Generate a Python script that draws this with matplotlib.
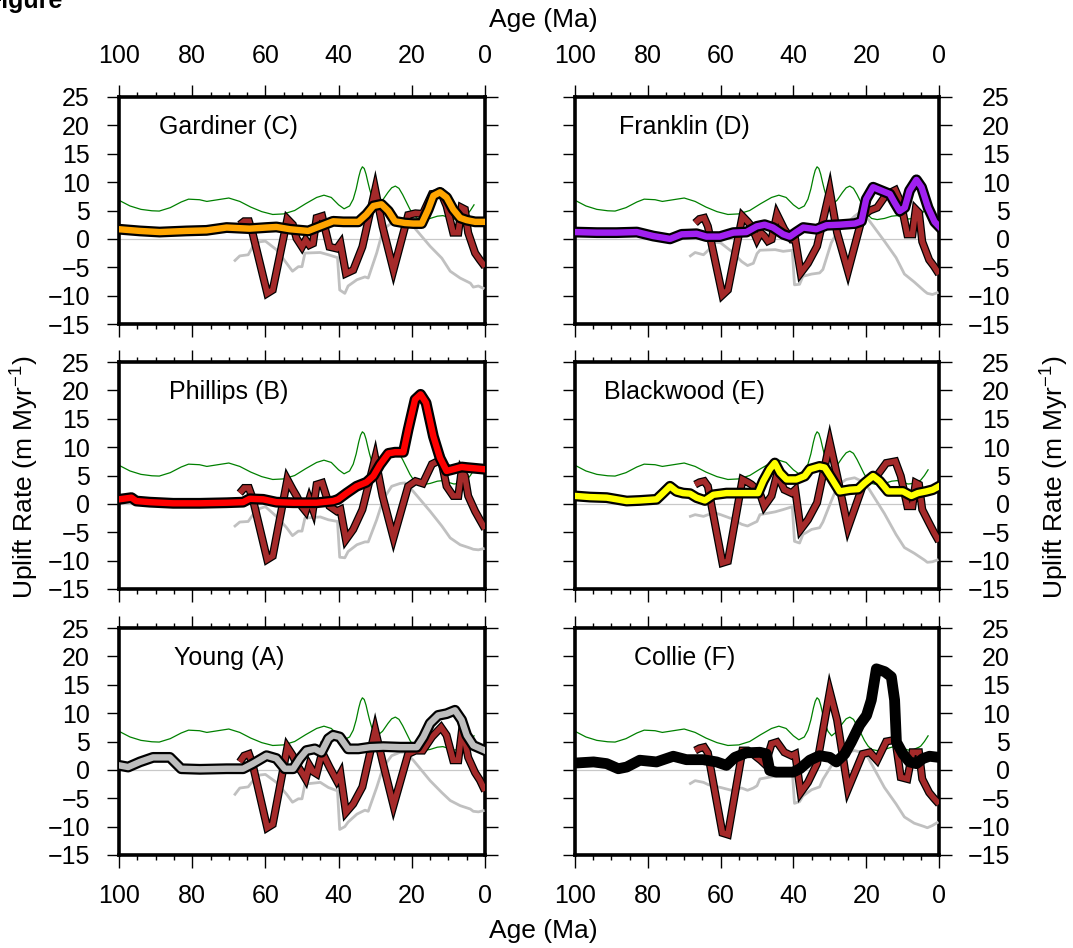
import numpy as np
import matplotlib
matplotlib.use("Agg")
import matplotlib.pyplot as plt
from matplotlib.ticker import MultipleLocator

plt.rcParams['font.family'] = ['Liberation Sans', 'DejaVu Sans']
plt.rcParams['mathtext.fontset'] = 'custom'
plt.rcParams['mathtext.rm'] = 'Liberation Sans'
plt.rcParams['mathtext.it'] = 'Liberation Sans:italic'

# --- thin green reference curve (same in every panel) ---
green_age = [100, 97, 94, 91, 89, 86, 83, 81, 78, 76, 73, 70, 67, 64, 61, 58, 55, 52, 49,
             46, 44, 42, 40, 38.5, 37, 36, 35.2, 34.5, 34, 33.5, 33, 32.5, 32, 31.5, 31,
             30.5, 29.5, 28, 26.5, 25.5, 24.5, 23.5, 22.5, 21.5, 20.5, 19.5, 18.5, 17, 15,
             13, 11.5, 10, 8.5, 7, 5.5, 5, 4, 3]
green_val = [6.8, 5.8, 5.2, 4.95, 4.9, 5.5, 6.5, 7.0, 6.9, 6.6, 6.9, 7.2, 6.6, 5.6, 4.8,
             4.3, 4.4, 5.0, 6.2, 7.3, 7.7, 7.3, 6.0, 5.3, 5.8, 7.0, 8.8, 10.9, 12.1, 12.7,
             12.4, 11.4, 10.0, 8.7, 7.6, 6.8, 6.0, 6.8, 8.2, 9.0, 9.3, 8.9, 7.8, 6.5, 5.2,
             4.2, 3.6, 3.4, 3.6, 4.0, 4.1, 3.8, 3.5, 3.6, 4.0, 4.2, 5.0, 6.0]

# --- light grey curve, per panel ---
gray_age = [68.3, 67, 64.7, 63.4, 61.5, 60, 57, 54.2, 52.6, 51, 50, 49.2, 45, 42.8, 40.3,
            39.7, 38.3, 37.4, 35, 32.8, 31.9, 29.6, 27.8, 25.5, 23.2, 21.9, 19.6, 15, 11.8,
            9.5, 6.8, 4, 3.2, 1.8, 0.5]
gray_gardiner = [-3.8, -3.0, -2.8, -1.3, -0.5, -0.4, -1.9, -4.3, -5.7, -4.9, -4.9, -2.5,
                 -2.4, -2.8, -3.3, -9.0, -9.6, -8.3, -7.2, -6.7, -6.9, -2.5, 1.7, 2.8, 3.4,
                 3.5, 2.2, -1.3, -3.4, -5.7, -6.9, -7.8, -8.5, -8.3, -8.7]
gray_franklin = [-3.0, -2.4, -2.8, -2.0, -0.6, -0.7, -2.2, -4.0, -4.7, -4.3, -2.6, -2.0,
                 -1.9, -2.2, -2.0, -8.1, -8.0, -6.6, -6.2, -6.0, -5.4, -0.7, 1.4, 2.6, 4.0,
                 4.6, 3.6, -0.4, -3.3, -6.2, -7.6, -9.2, -9.6, -9.8, -9.5]
gray_phillips = [-3.9, -3.2, -3.1, -1.9, -0.8, -0.5, -2.2, -4.2, -5.6, -4.8, -4.8, -2.5,
                 -2.3, -2.8, -3.1, -9.4, -9.5, -8.4, -7.2, -6.7, -6.7, -2.8, 0.8, 3.1, 3.6,
                 3.7, 2.2, -1.3, -3.9, -6.0, -7.2, -7.8, -8.0, -8.1, -7.9]
gray_blackwood = [-2.2, -1.9, -2.2, -1.9, -1.6, -1.9, -2.6, -3.6, -3.9, -3.4, -3.1, -1.9,
                  -1.4, -1.0, -0.5, -6.6, -6.9, -5.4, -4.5, -4.2, -3.2, 0.5, 3.3, 4.3, 4.6,
                  4.2, 3.0, -1.7, -5.4, -7.7, -8.7, -9.9, -10.3, -10.2, -9.9]
gray_young = [-4.3, -3.2, -3.0, -1.9, -0.9, -0.8, -2.2, -4.3, -5.7, -5.1, -5.1, -2.5,
              -2.2, -3.1, -3.7, -10.5, -10.0, -9.2, -7.8, -7.1, -7.3, -3.1, 0.5, 2.5, 3.1,
              3.1, 1.7, -1.9, -4.0, -5.4, -6.3, -6.9, -7.3, -7.4, -7.2]
gray_collie = [-2.4, -1.9, -2.2, -2.6, -2.9, -3.1, -3.6, -3.2, -3.6, -3.2, -2.8, -1.6,
               -1.1, -0.7, -0.2, -5.9, -5.6, -4.6, -3.5, -3.0, -1.7, 0.7, 2.1, 3.1, 3.4,
               3.2, 2.3, -3.1, -6.0, -8.3, -9.4, -10.0, -10.2, -9.8, -9.3]

# --- brown curve, per panel ---
brown_age = [67, 65.8, 64.5, 63.5, 59.5, 58, 54, 52.5, 51.5, 50, 49, 48, 47, 46, 44.5,
             42.5, 40.5, 39.5, 38, 36, 33.5, 30, 28, 25, 21, 19, 17, 14.5, 12, 10.5, 8.7,
             7.3, 6.4, 5.5, 4.6, 2.7, 1.4, 0]
brown_gardiner = [2.5, 3.1, 3.1, 1.0, -9.6, -9.0, 3.5, 2.5, 0.1, -1.4, -0.2, -1.1, -0.8,
                  3.7, 4.0, -1.4, -1.7, -0.8, -6.1, -5.5, -1.4, 8.7, 2.2, -5.5, 4.2, 4.5,
                  4.4, 7.9, 8.1, 5.8, 1.1, 1.1, 5.5, 5.2, 1.1, -2.5, -3.7, -4.9]
brown_franklin = [2.8, 3.5, 3.7, 2.2, -9.9, -9.0, 4.0, 3.0, 2.2, -0.1, 1.1, 0.5, -0.4,
                  -0.1, 4.3, 1.7, -0.1, -0.1, -6.0, -4.3, -1.3, 8.5, 1.1, -5.7, 4.0, 5.0,
                  5.5, 7.8, 8.6, 6.4, 0.8, 0.8, 5.2, 4.6, -0.5, -3.7, -4.8, -6.2]
brown_phillips = [1.9, 2.8, 2.8, 1.0, -9.8, -9.2, 4.3, 2.5, 1.4, -0.5, -1.3, 0.8, -1.0,
                  3.4, 3.7, -0.4, -1.3, -1.0, -6.3, -4.5, -1.0, 8.1, 1.4, -6.0, 3.1, 4.0,
                  3.6, 7.0, 7.8, 3.1, 1.4, 1.4, 5.8, 4.9, 1.4, -1.3, -2.8, -4.4]
brown_blackwood = [3.4, 3.8, 4.0, 3.1, -10.4, -10.1, 4.3, 3.8, 3.4, 2.5, 1.5, -0.4, 0.5,
                   1.4, 5.2, 2.5, 1.9, 2.5, -4.5, -2.8, 0.2, 10.8, 5.0, -4.2, 3.1, 4.6,
                   5.0, 7.2, 7.5, 4.9, -0.4, -0.4, 3.7, 3.4, -1.0, -3.4, -5.0, -6.6]
brown_young = [1.4, 2.5, 2.8, 1.0, -10.2, -9.6, 4.0, 2.5, 1.0, -0.5, -1.6, 0.8, -0.3,
               -0.7, 3.1, 0.5, -1.9, -0.7, -7.5, -6.0, -3.0, 7.0, 1.5, -6.3, 2.8, 3.4,
               3.4, 5.8, 7.5, 6.1, 1.7, 1.7, 6.4, 5.2, 2.2, -0.5, -1.8, -3.7]
brown_collie = [3.4, 3.8, 4.0, 3.0, -11.1, -11.4, 3.4, 3.4, 3.0, 2.2, 1.7, 1.1, 2.5,
                4.6, 4.9, 3.1, 2.5, 2.8, -4.0, -2.2, 1.1, 13.8, 8.8, -3.4, 2.8, 3.1,
                1.7, 5.0, 5.3, -1.3, -1.6, 3.1, 3.1, 3.1, -1.6, -4.0, -5.0, -6.0]

# --- thick coloured uplift-rate curves ---
gardiner_age = [100, 94.3, 88.9, 81.6, 76.1, 70.6, 64.3, 59.7, 57, 53.3, 48.3, 45.1, 41.5,
                38.7, 34.6, 32.4, 30.5, 28.3, 26.4, 24.6, 21.9, 19.6, 17.3, 15.5, 14.1,
                12.3, 10.5, 8.7, 6.8, 5, 2.7, 0]
gardiner_val = [1.7, 1.4, 1.2, 1.4, 1.5, 2.0, 1.8, 2.0, 2.1, 1.7, 1.4, 2.2, 3.1, 3.0, 3.0,
                4.3, 5.8, 6.1, 4.9, 3.1, 2.8, 2.7, 2.7, 5.2, 7.6, 8.2, 7.3, 5.2, 3.7, 3.3,
                3.0, 3.0]
franklin_age = [100, 94, 88.6, 83, 78.5, 73.9, 70.7, 66.6, 63.9, 60.2, 56.5, 52.9, 50.1,
                47.9, 45.6, 42.8, 41, 39.2, 37.3, 33.7, 30.9, 27.3, 23.1, 21.3, 20, 18.1,
                15.8, 13.5, 12.2, 10.8, 9.4, 8.1, 6.2, 4.8, 3, 1.2, 0]
franklin_val = [1.2, 1.1, 1.1, 1.2, 0.5, 0.0, 0.8, 0.9, 0.4, 0.4, 1.1, 1.2, 2.2, 2.5, 2.0,
                0.8, 0.4, 1.2, 2.0, 1.7, 2.4, 2.5, 2.7, 3.1, 7.0, 9.1, 8.5, 7.9, 6.4, 4.9,
                5.5, 8.5, 10.4, 9.1, 5.5, 3.0, 2.2]
phillips_age = [100, 96.6, 95.3, 91.6, 85.2, 77.9, 70.6, 66.1, 64.3, 60.6, 57, 52.4, 46,
                41.5, 40.1, 37.8, 35.1, 32.4, 30.5, 28.7, 26.4, 24.6, 22.3, 21, 19.1, 17.6,
                16.1, 14.1, 12.3, 10.5, 8.7, 6.4, 5, 0]
phillips_val = [0.8, 1.1, 0.5, 0.3, 0.1, 0.1, 0.2, 0.3, 0.9, 0.8, 0.3, 0.2, 0.2, 0.5, 0.8,
                1.9, 3.1, 3.8, 4.9, 6.9, 8.9, 9.1, 9.1, 13.1, 18.4, 19.3, 17.8, 11.9, 8.1,
                5.8, 6.1, 6.5, 6.4, 6.1]
blackwood_age = [100, 95.9, 91.3, 85.8, 82.2, 77.6, 75.8, 73.9, 72.1, 70.3, 68.4, 66.6,
                 64.3, 62, 58.4, 53.8, 49.7, 48.3, 46.5, 45.1, 43.7, 41.9, 39.2, 36.9,
                 35.5, 32.8, 31.4, 29.6, 27.3, 24.5, 22.2, 20.4, 18.1, 16.3, 14, 11.7, 9.9,
                 7.6, 5.8, 3.5, 1.7, 0]
blackwood_val = [1.4, 1.2, 1.1, 0.5, 0.6, 0.8, 1.9, 3.1, 2.2, 1.9, 1.8, 1.1, 0.6, 1.6, 1.9,
                 1.9, 1.9, 4.0, 6.1, 7.2, 5.5, 4.3, 4.3, 4.9, 6.1, 6.6, 6.4, 4.6, 2.2, 2.5,
                 2.6, 3.7, 4.9, 4.0, 2.2, 2.2, 2.2, 1.4, 1.9, 2.2, 2.5, 3.1]
young_age = [100, 97.5, 94.3, 90.7, 86.1, 83, 77.9, 70.6, 66.1, 63.4, 59.7, 57, 54.7, 52.4,
             50.6, 48.8, 46.5, 44.7, 42.8, 41.5, 39.7, 37.4, 34.6, 31.4, 27.8, 23.2, 18.6,
             16.8, 15, 12.8, 10.5, 8.2, 6.4, 5, 3.2, 0]
young_val = [0.8, 0.5, 1.4, 2.2, 2.2, 0.2, 0.1, 0.2, 0.2, 1.1, 2.5, 2.0, 0.2, 0.2, 2.0,
             3.4, 3.7, 3.1, 5.5, 6.1, 5.8, 3.7, 3.7, 4.0, 4.1, 4.0, 4.0, 5.8, 8.2, 9.6,
             9.9, 10.5, 8.8, 6.1, 4.3, 3.4]
collie_age = [100, 94.9, 91.3, 88.1, 85.8, 82.2, 77.6, 73, 69.4, 64.8, 61.1, 58.4, 56.1,
              52.9, 49.2, 47.4, 46.5, 44.7, 40.1, 38.2, 35.5, 32.8, 30, 28.2, 25.9, 24.1,
              21.8, 19.9, 18.6, 17.2, 14.9, 13.1, 12.2, 11.7, 9.9, 8.1, 6.2, 4.4, 2.6, 0]
collie_val = [1.2, 1.4, 1.1, 0.2, 0.5, 1.7, 1.4, 2.4, 1.8, 1.8, 1.4, 0.8, 2.2, 3.0, 3.1,
              2.8, -0.1, -0.4, -0.4, 0.2, 1.7, 2.5, 2.2, 1.4, 2.8, 4.9, 7.9, 9.6, 12.3,
              17.8, 17.3, 16.4, 12.3, 4.9, 2.8, 1.4, 1.1, 2.0, 2.4, 2.2]

# panel layout: (row, col, title, main age, main value, colour, brown, grey)
panels = [
    (0, 0, "Gardiner (C)", gardiner_age, gardiner_val, "#ffa500", brown_gardiner, gray_gardiner),
    (0, 1, "Franklin (D)", franklin_age, franklin_val, "#a020f0", brown_franklin, gray_franklin),
    (1, 0, "Phillips (B)", phillips_age, phillips_val, "#ff0000", brown_phillips, gray_phillips),
    (1, 1, "Blackwood (E)", blackwood_age, blackwood_val, "#ffff00", brown_blackwood, gray_blackwood),
    (2, 0, "Young (A)", young_age, young_val, "#bebebe", brown_young, gray_young),
    (2, 1, "Collie (F)", collie_age, collie_val, "#000000", brown_collie, gray_collie),
]

fig = plt.figure(figsize=(10.73, 9.48), dpi=100)

col_x = [119 / 1073, 575 / 1073]
col_w = [366 / 1073, 364 / 1073]
row_y = [1 - 324 / 948, 1 - 589 / 948, 1 - 855 / 948]
row_h = 227 / 948

for row, col, title, mage, mval, colr, brown, gray in panels:
    ax = fig.add_axes([col_x[col], row_y[row], col_w[col], row_h])
    ax.axhline(0, color="#c8c8c8", lw=0.9, zorder=1)
    ax.plot(green_age, green_val, color="#008000", lw=0.9, zorder=2)
    ax.plot(gray_age, gray, color="#c0c0c0", lw=2.0, zorder=3)
    ax.plot(brown_age, brown, color="k", lw=5.8, zorder=4,
            solid_joinstyle="miter", solid_capstyle="butt")
    ax.plot(brown_age, brown, color="#a52a2a", lw=4.0, zorder=5,
            solid_joinstyle="miter", solid_capstyle="butt")
    ax.plot(mage, mval, color="k", lw=7.8, zorder=6, solid_joinstyle="round")
    if colr != "#000000":
        ax.plot(mage, mval, color=colr, lw=4.6, zorder=7, solid_joinstyle="round")

    ax.set_xlim(100, 0)
    ax.set_ylim(-15, 25)
    ax.xaxis.set_major_locator(MultipleLocator(20))
    ax.xaxis.set_minor_locator(MultipleLocator(5))
    ax.yaxis.set_major_locator(MultipleLocator(5))
    for s in ax.spines.values():
        s.set_linewidth(2.6)

    ax.tick_params(axis="both", which="both", direction="out", top=True, bottom=True,
                   left=True, right=True, width=1.0, labelsize=18)
    ax.tick_params(axis="both", which="major", length=9)
    ax.tick_params(axis="x", which="minor", length=3.6)
    ax.tick_params(axis="x", pad=12,
                   labeltop=(row == 0), labelbottom=(row == 2))
    if col == 0:
        ax.tick_params(axis="y", pad=12, labelleft=True, labelright=False)
    else:
        ax.tick_params(axis="y", pad=42, labelleft=False, labelright=True)
        for lab in ax.get_yticklabels():
            lab.set_horizontalalignment("right")

    ax.text(0.30, 0.87, title, transform=ax.transAxes, ha="center", va="center",
            fontsize=18, zorder=10)

fig.text(543 / 1073, 1 - 20 / 948, "Age (Ma)", ha="center", va="center", fontsize=19)
fig.text(543 / 1073, 1 - 931 / 948, "Age (Ma)", ha="center", va="center", fontsize=19)
fig.text(25 / 1073, 1 - 477 / 948, r"Uplift Rate (m Myr$^{-1}$)", rotation=90,
         ha="center", va="center", fontsize=19)
fig.text(1055 / 1073, 1 - 477 / 948, r"Uplift Rate (m Myr$^{-1}$)", rotation=90,
         ha="center", va="center", fontsize=19)
fig.text(-14 / 1073, 1 - 8 / 948, "Figure", ha="left", va="baseline",
         fontsize=18, fontweight="bold")

fig.savefig("out.png", dpi=100)
